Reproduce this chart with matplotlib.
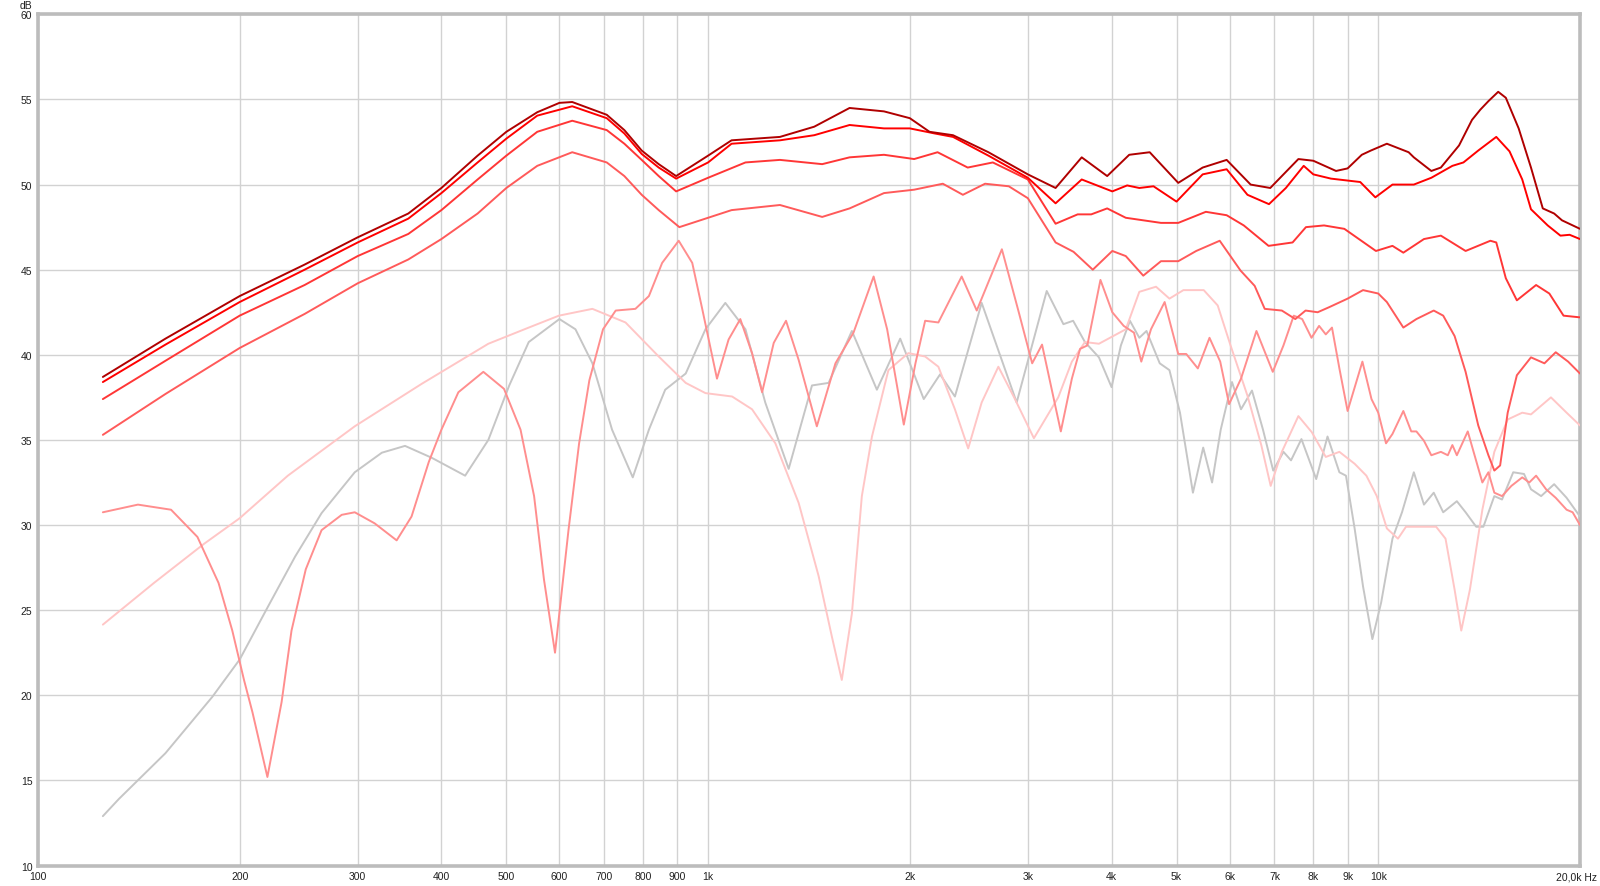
import numpy as np
import matplotlib
matplotlib.use('Agg')
import matplotlib.pyplot as plt
from matplotlib.ticker import FixedLocator, NullLocator

plt.rcParams['font.family'] = ['Liberation Sans', 'DejaVu Sans']

# --------------------------------------------------------------
# Data (Hz / dB)
# --------------------------------------------------------------

f_c1 = [125, 155, 200, 250, 300, 357, 400, 453, 500, 556, 600, 627, 706, 750, 796, 844, 896, 1000, 1084, 1280,
        1440, 1626, 1830, 2000, 2140, 2320, 2620, 3000, 3300, 3610, 3940, 4250, 4560, 5030, 5470, 5940, 6450,
        6900, 7600, 8000, 8650, 9000, 9450, 9750, 10300, 11100, 11300, 12000, 12400, 13200, 13800, 14200,
        14600, 15100, 15500, 16200, 16900, 17600, 18300, 18800, 20000]
db_c1 = [38.7, 40.95, 43.45, 45.3, 46.9, 48.3, 49.8, 51.7, 53.1, 54.25, 54.8, 54.85, 54.1, 53.2, 52.0, 51.2,
         50.5, 51.7, 52.6, 52.8, 53.4, 54.5, 54.3, 53.9, 53.1, 52.9, 51.9, 50.6, 49.8, 51.6, 50.5, 51.75, 51.9,
         50.1, 51.0, 51.45, 50.0, 49.8, 51.5, 51.4, 50.8, 50.95, 51.75, 52.0, 52.4, 51.9, 51.6, 50.8, 51.0,
         52.3, 53.8, 54.4, 54.9, 55.45, 55.1, 53.3, 51.0, 48.6, 48.3, 47.9, 47.4]

f_c2 = [125, 155, 200, 250, 300, 357, 400, 453, 500, 556, 627, 706, 750, 796, 844, 896, 1000, 1084, 1280, 1440,
        1626, 1830, 2000, 2180, 2320, 2620, 3000, 3300, 3610, 4010, 4220, 4400, 4620, 5000, 5470, 5940, 6380,
        6870, 7280, 7740, 8000, 8500, 9400, 9900, 10500, 11300, 12000, 12900, 13400, 14100, 15000, 15700,
        16400, 16900, 17900, 18700, 19300, 20000]
db_c2 = [38.4, 40.6, 43.1, 45.0, 46.6, 48.0, 49.5, 51.3, 52.7, 54.05, 54.6, 53.9, 53.0, 51.8, 51.0, 50.35,
         51.3, 52.4, 52.6, 52.9, 53.5, 53.3, 53.3, 53.0, 52.8, 51.7, 50.4, 48.9, 50.3, 49.6, 49.95, 49.8, 49.9,
         49.0, 50.6, 50.9, 49.4, 48.85, 49.8, 51.1, 50.6, 50.35, 50.15, 49.25, 50.0, 50.0, 50.4, 51.1, 51.3,
         52.0, 52.8, 51.95, 50.3, 48.55, 47.6, 47.0, 47.05, 46.8]

f_c3 = [125, 155, 200, 250, 300, 357, 400, 453, 500, 556, 627, 706, 750, 796, 844, 896, 1000, 1137, 1280, 1480,
        1626, 1830, 2030, 2200, 2440, 2660, 3000, 3300, 3560, 3730, 3940, 4200, 4740, 5030, 5530, 5940, 6300,
        6860, 7450, 7800, 8300, 8900, 9920, 10500, 10900, 11700, 12400, 13500, 14700, 15000, 15500, 16100,
        17200, 18000, 18900, 20000]
db_c3 = [37.4, 39.65, 42.3, 44.1, 45.8, 47.1, 48.5, 50.3, 51.7, 53.1, 53.75, 53.2, 52.4, 51.45, 50.5, 49.6,
         50.4, 51.3, 51.45, 51.2, 51.6, 51.75, 51.5, 51.9, 51.0, 51.3, 50.3, 47.7, 48.25, 48.25, 48.6, 48.05,
         47.75, 47.75, 48.4, 48.2, 47.6, 46.4, 46.6, 47.5, 47.6, 47.4, 46.1, 46.4, 46.0, 46.8, 47.0, 46.1, 46.7,
         46.6, 44.5, 43.2, 44.1, 43.6, 42.3, 42.2]

f_c4 = [125, 155, 200, 250, 300, 357, 400, 453, 500, 556, 627, 706, 750, 796, 844, 906, 1084, 1280, 1480, 1626,
        1830, 2030, 2240, 2400, 2590, 2810, 3000, 3300, 3510, 3750, 4010, 4200, 4460, 4740, 5030, 5350, 5800,
        6230, 6540, 6770, 7180, 7520, 7790, 8120, 8450, 9000, 9490, 10000, 10300, 10900, 11400, 12100, 12500,
        13000, 13500, 14100, 14600, 14900, 15200, 15600, 16100, 16900, 17700, 18400, 19200, 20000]
db_c4 = [35.3, 37.7, 40.4, 42.4, 44.2, 45.6, 46.8, 48.3, 49.8, 51.1, 51.9, 51.3, 50.5, 49.4, 48.5, 47.5, 48.5,
         48.8, 48.1, 48.6, 49.5, 49.7, 50.05, 49.4, 50.05, 49.9, 49.2, 46.6, 46.05, 45.0, 46.1, 45.8, 44.65,
         45.5, 45.5, 46.1, 46.7, 44.95, 44.05, 42.7, 42.6, 42.1, 42.6, 42.5, 42.8, 43.3, 43.8, 43.6, 43.1, 41.6,
         42.1, 42.6, 42.3, 41.1, 39.0, 35.85, 34.1, 33.2, 33.5, 36.6, 38.8, 39.85, 39.5, 40.15, 39.6, 38.9]

f_pink = [125, 141, 158, 173, 186, 195, 203, 209, 220, 231, 239, 251, 265, 284, 297, 318, 343, 361, 383, 400,
          424, 462, 496, 525, 550, 569, 591, 619, 642, 665, 697, 728, 779, 816, 854, 904, 947, 980, 1031,
          1073, 1117, 1163, 1204, 1253, 1307, 1365, 1453, 1549, 1603, 1648, 1766, 1850, 1959, 2039, 2108,
          2206, 2390, 2517, 2744, 2908, 3045, 3150, 3360, 3490, 3590, 3680, 3850, 4010, 4170, 4320, 4430,
          4580, 4800, 5030, 5170, 5380, 5600, 5810, 5990, 6240, 6580, 6960, 7220, 7480, 7700, 7950, 8160,
          8350, 8530, 8750, 9000, 9470, 9770, 10000, 10270, 10500, 10900, 11200, 11400, 11700, 12000, 12400,
          12700, 12900, 13100, 13600, 14300, 14600, 14900, 15300, 15800, 16400, 16800, 17200, 17800, 18400,
          19100, 19500, 20000]
db_pink = [30.75, 31.2, 30.9, 29.3, 26.6, 23.8, 20.9, 19.0, 15.2, 19.6, 23.8, 27.4, 29.7, 30.6, 30.75, 30.1,
           29.1, 30.5, 33.7, 35.6, 37.8, 39.0, 38.0, 35.6, 31.7, 26.8, 22.5, 29.7, 34.8, 38.5, 41.5, 42.6,
           42.7, 43.45, 45.4, 46.7, 45.4, 42.7, 38.6, 40.9, 42.1, 40.1, 37.8, 40.7, 42.0, 39.7, 35.8, 39.5,
           40.5, 41.3, 44.6, 41.5, 35.9, 39.5, 42.0, 41.9, 44.6, 42.6, 46.2, 42.5, 39.5, 40.6, 35.5, 38.6,
           40.35, 40.55, 44.4, 42.5, 41.7, 41.3, 39.6, 41.5, 43.1, 40.05, 40.05, 39.2, 41.0, 39.6, 37.1, 38.6,
           41.4, 39.0, 40.55, 42.3, 42.1, 41.0, 41.7, 41.2, 41.6, 39.2, 36.7, 39.6, 37.4, 36.6, 34.8, 35.35,
           36.7, 35.5, 35.5, 34.95, 34.1, 34.3, 34.1, 34.7, 34.1, 35.5, 32.5, 33.1, 31.9, 31.7, 32.3, 32.8,
           32.5, 32.9, 32.1, 31.6, 30.9, 30.75, 30.0]

f_light = [125, 149, 177, 200, 236, 297, 374, 470, 540, 599, 672, 753, 844, 926, 991, 1086, 1163, 1260, 1365,
           1462, 1530, 1583, 1639, 1696, 1756, 1858, 1990, 2108, 2206, 2335, 2444, 2560, 2711, 2870, 3063,
           3330, 3490, 3650, 3830, 4200, 4400, 4660, 4880, 5120, 5490, 5760, 6020, 6380, 6690, 6910, 7180,
           7600, 7960, 8350, 8750, 9220, 9600, 9950, 10300, 10700, 11000, 11600, 12200, 12600, 13000, 13300,
           13700, 14300, 14900, 15600, 16400, 16900, 18100, 19100, 20000]
db_light = [24.15, 26.6, 28.9, 30.4, 32.9, 35.8, 38.3, 40.65, 41.6, 42.3, 42.7, 41.9, 39.9, 38.35, 37.75,
            37.55, 36.8, 34.8, 31.3, 27.0, 23.45, 20.9, 24.8, 31.7, 35.2, 39.1, 40.1, 39.9, 39.3, 36.8, 34.5,
            37.2, 39.3, 37.4, 35.1, 37.5, 39.6, 40.75, 40.65, 41.5, 43.7, 44.0, 43.3, 43.8, 43.8, 42.9, 40.55,
            37.6, 34.7, 32.3, 34.3, 36.4, 35.45, 34.0, 34.3, 33.6, 32.9, 31.7, 29.8, 29.2, 29.9, 29.9, 29.9,
            29.2, 26.2, 23.8, 26.2, 30.9, 34.3, 36.2, 36.6, 36.5, 37.5, 36.6, 35.85]

f_gray = [125, 132, 155, 182, 200, 219, 242, 265, 297, 326, 353, 387, 434, 470, 505, 540, 600, 634, 672, 719,
          772, 816, 863, 926, 991, 1061, 1137, 1217, 1319, 1429, 1513, 1639, 1786, 1935, 2098, 2219, 2335,
          2560, 2887, 3201, 3390, 3505, 3650, 3830, 4000, 4130, 4260, 4400, 4510, 4720, 4880, 5060, 5290,
          5480, 5650, 5820, 6050, 6240, 6480, 6730, 6970, 7220, 7410, 7680, 8080, 8400, 8750, 8950, 9220,
          9490, 9800, 10100, 10500, 10850, 11300, 11700, 12100, 12500, 13100, 13500, 14000, 14350, 14900,
          15300, 15900, 16500, 16900, 17500, 18300, 19100, 20000]
db_gray = [12.9, 13.9, 16.6, 19.9, 22.1, 25.0, 28.15, 30.7, 33.1, 34.25, 34.65, 33.95, 32.9, 35.0, 38.2,
           40.75, 42.1, 41.5, 39.5, 35.6, 32.8, 35.6, 37.95, 38.9, 41.5, 43.05, 41.5, 37.2, 33.3, 38.2, 38.35,
           41.4, 37.95, 40.95, 37.4, 38.85, 37.55, 43.05, 37.2, 43.75, 41.8, 42.0, 40.75, 39.85, 38.1, 40.55,
           42.0, 41.0, 41.4, 39.5, 39.1, 36.6, 31.9, 34.55, 32.5, 35.6, 38.4, 36.8, 37.9, 35.6, 33.2, 34.3,
           33.8, 35.05, 32.7, 35.2, 33.1, 32.9, 29.8, 26.4, 23.3, 25.45, 29.2, 30.75, 33.1, 31.2, 31.9, 30.75,
           31.4, 30.75, 29.9, 29.9, 31.7, 31.5, 33.1, 33.0, 32.1, 31.7, 32.4, 31.6, 30.5]

x_ticks = [100, 200, 300, 400, 500, 600, 700, 800, 900, 1000, 2000, 3000, 4000, 5000, 6000, 7000, 8000,
           9000, 10000, 20000]
x_labels = ['100', '200', '300', '400', '500', '600', '700', '800', '900', '1k', '2k', '3k', '4k', '5k', '6k',
            '7k', '8k', '9k', '10k', '']
y_ticks = [10, 15, 20, 25, 30, 35, 40, 45, 50, 55, 60]

# --------------------------------------------------------------
# Plot
# --------------------------------------------------------------

fig = plt.figure(figsize=(16, 8.87), dpi=100)
ax = fig.add_axes([0.0237, 0.0231, 0.9638, 0.9596])

series = [
    (f_gray, db_gray, '#c6c6c6'),
    (f_light, db_light, '#ffc6c6'),
    (f_pink, db_pink, '#ff8e8e'),
    (f_c4, db_c4, '#ff5a5a'),
    (f_c3, db_c3, '#ff3636'),
    (f_c2, db_c2, '#ff0000'),
    (f_c1, db_c1, '#b00000'),
]
for f, db, col in series:
    ax.plot(f, db, color=col, lw=1.4, solid_joinstyle='round', solid_capstyle='round', zorder=3)

ax.set_xscale('log')
ax.set_xlim(100, 20000)
ax.set_ylim(10, 60)
ax.xaxis.set_major_locator(FixedLocator(x_ticks))
ax.xaxis.set_minor_locator(NullLocator())
ax.set_xticklabels(x_labels)
ax.set_yticks(y_ticks)
ax.set_yticklabels([str(v) for v in y_ticks])
ax.tick_params(axis='both', length=0, labelsize=7.5, colors='#202020')
ax.tick_params(axis='x', pad=4)
ax.tick_params(axis='y', pad=4)
ax.grid(True, color='#d2d2d2', lw=1.0, zorder=1)
for s in ax.spines.values():
    s.set_color('#bcbcbc')
    s.set_linewidth(2.6)

ax.annotate('20,0k Hz', xy=(20000, 0), xycoords=('data', 'axes fraction'), xytext=(-17, -4),
            textcoords='offset points', ha='left', va='top', fontsize=7.5, color='#202020')
ax.annotate('dB', xy=(0, 1), xycoords='axes fraction', xytext=(-4, 4.5), textcoords='offset points',
            ha='right', va='baseline', fontsize=7.5, color='#202020')

fig.savefig('out.png', dpi=100, facecolor='white')
